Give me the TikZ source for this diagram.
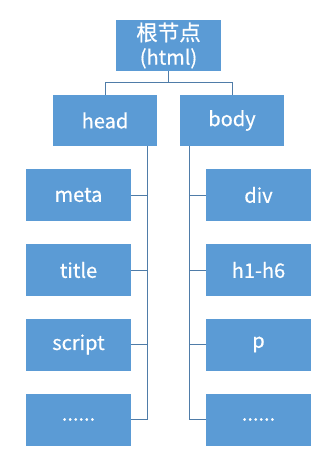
\documentclass[tikz,border=0pt]{standalone}
\usepackage{fontspec}
\setmainfont{Noto Sans CJK SC}[FakeBold=0.5]
\definecolor{boxblue}{HTML}{5B9BD5}
\definecolor{linkblue}{HTML}{4F7CA8}
\begin{document}
\begin{tikzpicture}[x=1pt,y=-1pt,
  box/.style={draw=none,fill=boxblue,text=white,inner sep=0pt,
    minimum width=105pt,minimum height=51pt,font=\fontsize{20}{26}\selectfont,align=center},
  link/.style={draw=linkblue,line width=0.9pt}]
\useasboundingbox[fill=white] (0,0) rectangle (329,471);
\node[box] (root) at (168.5,45.5) {{\fontsize{21.5}{26}\selectfont 根节点}\\[-2pt](html)};
\node[box,minimum width=104pt] (head) at (105,120.5) {head};
\node[box,minimum width=104pt] (body) at (232,120.5) {body};
\node[box,minimum height=52pt] (meta) at (78.5,195) {meta};
\node[box,minimum height=52pt] (title) at (78.5,270) {title};
\node[box,minimum height=52pt] (script) at (78.5,344.5) {script};
\node[box,minimum height=52pt] (ldots) at (78.5,419.5) {......};
\node[box,minimum height=52pt] (div) at (258.5,195) {div};
\node[box,minimum height=52pt] (hsix) at (258.5,270) {h1-h6};
\node[box,minimum height=52pt] (para) at (258.5,344.5) {p};
\node[box,minimum height=52pt] (rdots) at (258.5,419.5) {......};
\coordinate (hl) at ([xshift=-10pt]head.south east);
\coordinate (bl) at ([xshift=10pt]body.south west);
\draw[link] (root.south) -- ++(0,11) coordinate (rj);
\draw[link] (rj) -| (head.north);
\draw[link] (rj) -| (body.north);
\draw[link] (hl) |- (ldots.east);
\draw[link] (hl) |- (meta.east);
\draw[link] (hl) |- (title.east);
\draw[link] (hl) |- (script.east);
\draw[link] (bl) |- (rdots.west);
\draw[link] (bl) |- (div.west);
\draw[link] (bl) |- (hsix.west);
\draw[link] (bl) |- (para.west);
\end{tikzpicture}
\end{document}
